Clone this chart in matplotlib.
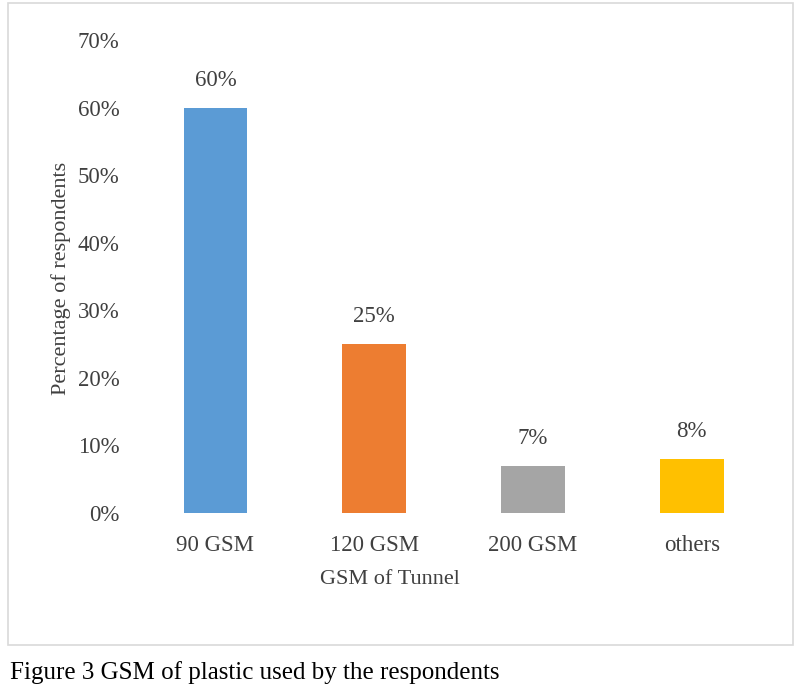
import matplotlib
matplotlib.use("Agg")
import matplotlib.pyplot as plt
from matplotlib.patches import Rectangle
from matplotlib.ticker import PercentFormatter

categories = ["90 GSM", "120 GSM", "200 GSM", "others"]
shares = [0.60, 0.25, 0.07, 0.08]
bar_colors = ["#5B9BD5", "#ED7D31", "#A5A5A5", "#FFC000"]
value_labels = ["60%", "25%", "7%", "8%"]

plt.rcParams["font.family"] = ["Liberation Serif", "DejaVu Serif"]
text_color = "#404040"

fig = plt.figure(figsize=(8, 6.99), dpi=100)
ax = fig.add_axes([0.17, 0.2661, 0.794, 0.6767])

x = range(len(categories))
bars = ax.bar(x, shares, width=0.4, color=bar_colors)
for rect, lab in zip(bars, value_labels):
    ax.annotate(lab, (rect.get_x() + rect.get_width() / 2, rect.get_height()),
                xytext=(0, 12), textcoords="offset points",
                ha="center", va="bottom", fontsize=16.5, color=text_color)

ax.set_xlim(-0.5, len(categories) - 0.5)
ax.set_ylim(0, 0.7)
ax.set_yticks([i / 10 for i in range(8)])
ax.yaxis.set_major_formatter(PercentFormatter(1.0, decimals=0))
ax.set_xticks(list(x))
ax.set_xticklabels(categories)
ax.tick_params(axis="both", length=0, labelsize=16.5, labelcolor=text_color)
ax.tick_params(axis="y", pad=12)
ax.tick_params(axis="x", pad=16)
for s in ax.spines.values():
    s.set_visible(False)

ax.set_ylabel("Percentage of respondents", fontsize=16, color=text_color)
ax.yaxis.set_label_coords(-0.102, 0.495)
ax.set_xlabel("GSM of Tunnel", fontsize=16, color=text_color)
ax.xaxis.set_label_coords(0.4, -0.12)

# chart frame and caption
fig.patches.append(Rectangle((0.01, 0.0773), 0.981, 0.9184, transform=fig.transFigure,
                             fill=False, edgecolor="#D9D9D9", linewidth=1.2))
fig.text(0.013, 0.038, "Figure 3 GSM of plastic used by the respondents",
         fontsize=18, color="black", ha="left", va="center")

fig.savefig("out.png", dpi=100)
